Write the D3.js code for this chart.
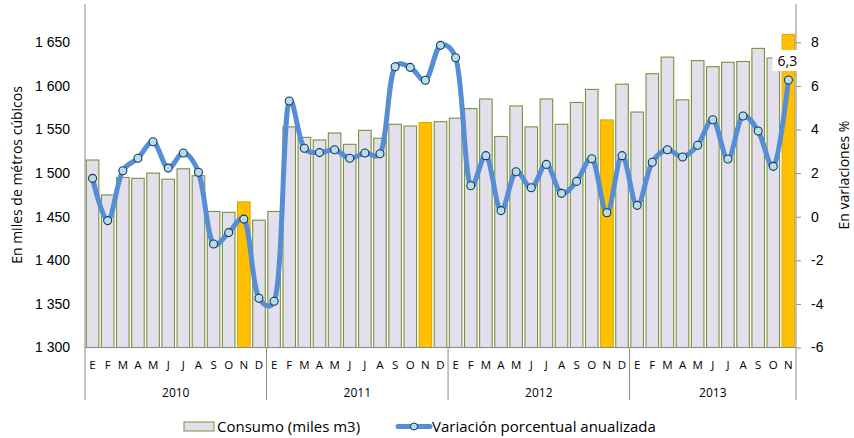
<!DOCTYPE html>
<html>
<head>
<meta charset="utf-8">
<script src="https://cdn.jsdelivr.net/npm/d3@7"></script>
<style>
  html, body { margin: 0; padding: 0; background: #fff; }
  svg { display: block; font-family: "Open Sans", "Liberation Sans", sans-serif; }
</style>
</head>
<body>
<svg id="chart" width="854" height="438"></svg>
<script>
const monthLabels = ["E","F","M","A","M","J","J","A","S","O","N","D"];
const years = ["2010","2011","2012","2013"];
const consumo = [
  1515, 1475, 1495, 1494, 1500, 1493, 1505, 1497, 1456, 1455, 1467, 1446,
  1456, 1553, 1541, 1538, 1546, 1533, 1549, 1540, 1556, 1554, 1558, 1559,
  1563, 1574, 1585, 1542, 1577, 1553, 1585, 1556, 1581, 1596, 1561, 1602,
  1570, 1614, 1633, 1584, 1629, 1622, 1627, 1628, 1643, 1632, 1659
];
const variacion = [
  1.76, -0.18, 2.11, 2.68, 3.44, 2.23, 2.92, 2.04, -1.25, -0.73, -0.11, -3.74,
  -3.88, 5.31, 3.14, 2.94, 3.07, 2.68, 2.92, 2.89, 6.88, 6.85, 6.26, 7.86,
  7.29, 1.42, 2.80, 0.28, 2.06, 1.33, 2.40, 1.07, 1.62, 2.66, 0.18, 2.80,
  0.52, 2.50, 3.07, 2.74, 3.28, 4.45, 2.65, 4.62, 3.93, 2.31, 6.27
];
const leftTicks = [1300, 1350, 1400, 1450, 1500, 1550, 1600, 1650];
const rightTicks = [-6, -4, -2, 0, 2, 4, 6, 8];
const highlightMonth = "N";
const lastLabel = "6,3";
const legendLabels = ["Consumo (miles m3)", "Variación porcentual anualizada"];
const leftTitle = "En miles de métros cúbicos";
const rightTitle = "En variaciones %";

const svg = d3.select("#chart");
const L = 85, R = 796, B = 347.5, T = 42.3, TOP = 4;
const n = consumo.length;

const x = d3.scaleBand().domain(d3.range(n)).range([L, R]).paddingInner(0.17).paddingOuter(0.085);
const step = x.step();
const yL = d3.scaleLinear().domain([1300, 1650]).range([B, T]);
const yR = d3.scaleLinear().domain([-6, 8]).range([B, T]);

const axisColor = "#8c8c8c";
const loc = d3.formatLocale({decimal: ",", thousands: " ", grouping: [3], currency: ["", ""]});
const fmt = loc.format(",");

// Bars
svg.append("g").selectAll("rect").data(consumo).join("rect")
  .attr("x", (d, i) => x(i))
  .attr("y", d => yL(d))
  .attr("width", x.bandwidth())
  .attr("height", d => B - yL(d))
  .attr("fill", (d, i) => monthLabels[i % 12] === highlightMonth ? "#FFC000" : "#E4DFEC")
  .attr("stroke", (d, i) => monthLabels[i % 12] === highlightMonth ? "#E0A800" : "#77933C")
  .attr("stroke-width", 1.1);

// Left axis
const gL = svg.append("g").attr("transform", `translate(${L},0)`)
  .call(d3.axisLeft(yL).tickValues(leftTicks).tickSize(0).tickPadding(15).tickFormat(fmt));
gL.select(".domain").remove();
gL.selectAll("text").attr("font-size", 14).attr("fill", "#000");

// Right axis
const gR = svg.append("g").attr("transform", `translate(${R},0)`)
  .call(d3.axisRight(yR).tickValues(rightTicks).tickSize(5).tickPadding(10).tickFormat(d => String(d)));
gR.select(".domain").remove();
gR.selectAll("line").attr("stroke", axisColor);
gR.selectAll("text").attr("font-size", 14).attr("fill", "#000");

// Axis lines
svg.append("line").attr("x1", L).attr("x2", L).attr("y1", TOP).attr("y2", 400).attr("stroke", axisColor);
svg.append("line").attr("x1", R).attr("x2", R).attr("y1", TOP).attr("y2", 400).attr("stroke", axisColor);
svg.append("line").attr("x1", L).attr("x2", R).attr("y1", B).attr("y2", B).attr("stroke", axisColor);

// Year separators
for (let k = 1; k < years.length; k++) {
  const xs = L + 12 * k * step;
  svg.append("line").attr("x1", xs).attr("x2", xs).attr("y1", B).attr("y2", 400).attr("stroke", axisColor);
}

// Month labels
svg.append("g").selectAll("text").data(d3.range(n)).join("text")
  .attr("x", i => x(i) + x.bandwidth() / 2)
  .attr("y", 369)
  .attr("text-anchor", "middle")
  .attr("font-size", 11.5)
  .attr("fill", "#000")
  .text(i => monthLabels[i % 12]);

// Year labels
svg.append("g").selectAll("text").data(years).join("text")
  .attr("x", (d, k) => {
    const s = 12 * k, e = Math.min(12 * k + 11, n - 1);
    return (x(s) + x(e) + x.bandwidth()) / 2;
  })
  .attr("y", 397)
  .attr("text-anchor", "middle")
  .attr("font-size", 12)
  .attr("fill", "#000")
  .text(d => d);

// Line
const line = d3.line()
  .x((d, i) => x(i) + x.bandwidth() / 2)
  .y(d => yR(d))
  .curve(d3.curveCatmullRom.alpha(0.3));
svg.append("path").datum(variacion)
  .attr("d", line)
  .attr("fill", "none")
  .attr("stroke", "#558ED5")
  .attr("stroke-width", 5)
  .attr("stroke-linejoin", "round");

svg.append("g").selectAll("circle").data(variacion).join("circle")
  .attr("cx", (d, i) => x(i) + x.bandwidth() / 2)
  .attr("cy", d => yR(d))
  .attr("r", 4)
  .attr("fill", "#B7DEE8")
  .attr("stroke", "#17375E")
  .attr("stroke-width", 1.1);

// Last value label
const lx = x(n - 1) + x.bandwidth() / 2, ly = yR(variacion[n - 1]);
svg.append("rect").attr("x", lx - 16).attr("y", ly - 30).attr("width", 29).attr("height", 21).attr("fill", "#fff");
svg.append("text").attr("x", lx - 1).attr("y", ly - 14).attr("text-anchor", "middle")
  .attr("font-size", 14).attr("fill", "#000").text(lastLabel);

// Axis titles
svg.append("text").attr("transform", "translate(22,175) rotate(-90)")
  .attr("text-anchor", "middle").attr("font-size", 14).attr("fill", "#000").text(leftTitle);
svg.append("text").attr("transform", "translate(849,175) rotate(-90)")
  .attr("text-anchor", "middle").attr("font-size", 14).attr("fill", "#000").text(rightTitle);

// Legend
const lg = svg.append("g");
lg.append("rect").attr("x", 184).attr("y", 422).attr("width", 30).attr("height", 9)
  .attr("fill", "#E4DFEC").attr("stroke", "#77933C").attr("stroke-width", 1);
lg.append("text").attr("x", 217).attr("y", 432).attr("font-size", 15).attr("fill", "#000").text(legendLabels[0]);
lg.append("line").attr("x1", 398).attr("x2", 430).attr("y1", 426.5).attr("y2", 426.5)
  .attr("stroke", "#558ED5").attr("stroke-width", 5).attr("stroke-linecap", "round");
lg.append("circle").attr("cx", 414).attr("cy", 426.5).attr("r", 3.5)
  .attr("fill", "#B7DEE8").attr("stroke", "#17375E").attr("stroke-width", 1);
lg.append("text").attr("x", 432).attr("y", 432).attr("font-size", 15).attr("fill", "#000").text(legendLabels[1]);
</script>
</body>
</html>
